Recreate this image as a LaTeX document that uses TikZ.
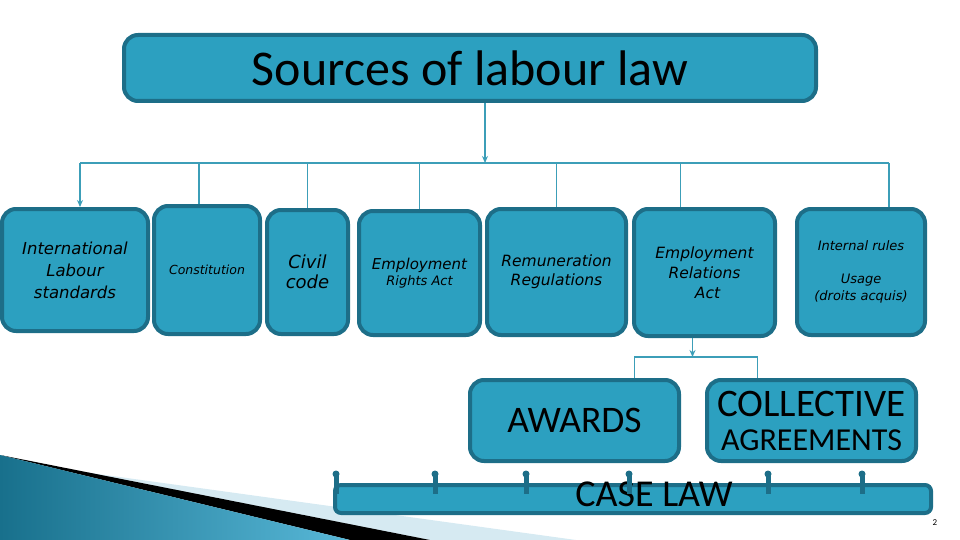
\documentclass[tikz,border=0pt]{standalone}
\usepackage{fontspec}
\setmainfont{Carlito}
\newfontfamily\slfont{DejaVu Sans Oblique}
\usetikzlibrary{arrows.meta,positioning}
\definecolor{boxfill}{RGB}{44,160,192}
\definecolor{boxline}{RGB}{29,110,136}
\definecolor{wirecol}{RGB}{60,158,184}
\definecolor{swdark}{RGB}{24,112,140}
\definecolor{swmid}{RGB}{88,184,216}
\definecolor{swpale}{RGB}{214,234,242}
\newcommand{\fs}[2]{\fontsize{#1}{#2}\selectfont}
\begin{document}
\begin{tikzpicture}[x=1pt,y=-1pt,
  src/.style={draw=boxline,fill=boxfill,line width=4pt,rounded corners=14pt,
    inner sep=0pt,align=center},
  wire/.style={draw=wirecol,line width=1.2pt},
  tip/.style={-{Stealth[length=7pt,width=6pt]}}]

\useasboundingbox (0,0) rectangle (960,540);

\fill[swpale] (40,466) -- (576,540) -- (430,540) -- cycle;
\fill[black] (0,455) -- (430,540) -- (350,540) -- cycle;
\shade[left color=swdark,right color=swmid] (0,455) -- (350,540) -- (0,540) -- cycle;

\node[src,minimum width=692,minimum height=66,font=\fs{50}{52}] (title) at (470,68)
  {Sources of labour law};

\node[src,minimum width=146,minimum height=122,font=\slfont\fs{16.5}{22}] (ils) at (75,270)
  {International\\Labour\\standards};
\node[src,minimum width=106,minimum height=128,font=\slfont\fs{12.5}{15}] (const) at (207,270)
  {Constitution};
\node[src,minimum width=81,minimum height=124,font=\slfont\fs{18}{20}] (civil) at (307.5,272)
  {Civil\\code};
\node[src,minimum width=121,minimum height=124,font=\slfont\fs{15}{16}] (era1) at (419.5,273)
  {Employment\\\fs{13}{16}Rights Act};
\node[src,minimum width=139,minimum height=126,font=\slfont\fs{15.5}{19}] (remun) at (556.5,272)
  {Remuneration\\Regulations};
\node[src,minimum width=141,minimum height=127,font=\slfont\fs{15.5}{20}] (era2) at (704.5,272.5)
  {Employment\\Relations\\\hspace*{6pt}Act};
\node[src,minimum width=128,minimum height=126,font=\slfont\fs{13}{17}] (usage) at (861,272)
  {Internal rules\\[16pt]Usage\\(droits acquis)};

\node[src,minimum width=209,minimum height=81,font=\fs{37.5}{38}] (awards) at (574.5,420.5)
  {AWARDS};
\node[src,minimum width=209,minimum height=81,font=\fs{39}{34}] (coll) at (811.5,420.5)
  {COLLECTIVE\\\fs{32}{34}AGREEMENTS};

\node[src,rounded corners=6pt,minimum width=596,minimum height=28] (caselaw) at (633,499) {};
\node[font=\fs{38}{40}] (caselab) at (654,494) {CASE LAW};
\foreach \x in {336,435,526,629,768,862}{
  \draw[boxline,line width=5pt] (\x,475) -- (\x,494);
  \fill[boxline] (\x,474) circle (3.5);
}

\coordinate (bus) at (0,163);
\coordinate (t1) at ([xshift=15]title.south);
\coordinate (d1) at ([xshift=5]ils.north);
\coordinate (d2) at ([xshift=-8]const.north);
\coordinate (d3) at (civil.north);
\coordinate (d4) at (era1.north);
\coordinate (d5) at (remun.north);
\coordinate (d6) at ([xshift=-24]era2.north);
\coordinate (d7) at ([xshift=28]usage.north);

\draw[wire,tip] (t1) -- (t1 |- bus);
\draw[wire] (d1 |- bus) -- (d7 |- bus);
\draw[wire,tip] (d1 |- bus) -- (d1);
\foreach \d in {d2,d3,d4,d5,d6,d7}
\draw[wire] (\d |- bus) -- (\d);

\coordinate (br) at (0,357);
\coordinate (e1) at ([xshift=-12]era2.south);
\coordinate (a1) at ([xshift=60]awards.north);
\coordinate (a2) at ([xshift=-54]coll.north);
\draw[wire,tip] (e1) -- (e1 |- br);
\draw[wire] (a1) |- (a2 |- br) -- (a2);

\node[font=\fs{9}{10}] (pnum) at (935,523) {2};
\end{tikzpicture}
\end{document}
